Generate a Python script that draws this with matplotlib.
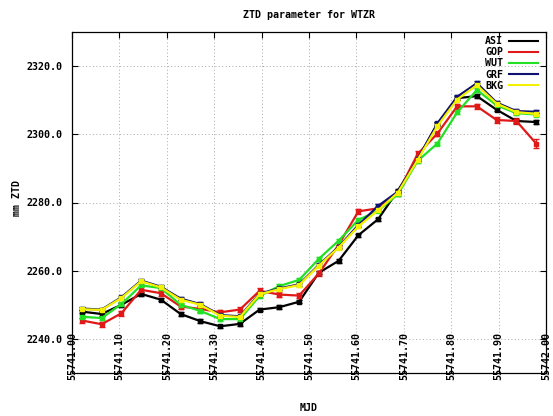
import matplotlib
matplotlib.use("Agg")
import matplotlib.pyplot as plt

# ---------------- data ----------------
mjd_start = 55741.0
hours = [k + 0.5 for k in range(24)]  # hourly epochs at half hour

ASI = [2248.0, 2247.3, 2250.0, 2253.2, 2251.5, 2247.3, 2245.2, 2243.7, 2244.4, 2248.6,
       2249.3, 2250.9, 2259.4, 2262.9, 2270.4, 2275.1, 2283.5, 2292.8, 2303.0, 2310.6,
       2311.2, 2307.2, 2303.9, 2303.6]
GOP = [2245.4, 2244.3, 2247.5, 2254.4, 2253.4, 2249.5, 2248.8, 2247.8, 2248.6, 2254.1,
       2253.0, 2252.7, 2259.2, 2267.6, 2277.4, 2278.3, 2282.8, 2294.2, 2300.2, 2308.2,
       2308.2, 2304.2, 2303.9, 2297.3]
WUT = [2246.5, 2246.1, 2250.2, 2255.7, 2254.9, 2250.0, 2248.2, 2245.8, 2245.8, 2252.6,
       2255.5, 2257.3, 2263.5, 2268.8, 2274.9, 2277.6, 2282.4, 2292.2, 2297.3, 2306.4,
       2313.0, 2308.5, 2306.2, 2305.8]
GRF = [2248.9, 2248.6, 2252.2, 2257.1, 2255.3, 2251.8, 2250.2, 2247.0, 2246.6, 2253.3,
       2254.8, 2256.0, 2261.7, 2267.0, 2273.4, 2279.0, 2283.2, 2292.7, 2303.2, 2311.0,
       2315.0, 2309.3, 2306.8, 2306.6]
BKG = [2248.7, 2248.5, 2252.0, 2256.9, 2255.1, 2251.5, 2250.0, 2246.8, 2246.4, 2253.1,
       2254.6, 2255.8, 2261.5, 2266.8, 2273.0, 2277.7, 2282.9, 2292.5, 2302.4, 2310.2,
       2314.4, 2309.0, 2306.5, 2306.0]

ASI_ERR = [0.5] * 24
GOP_ERR = [0.8] * 23 + [1.3]
WUT_ERR = [0.5] * 24
GRF_ERR = [0.5] * 24
BKG_ERR = [0.5] * 24

series_names = ["ASI", "GOP", "WUT", "GRF", "BKG"]
series_vals = [ASI, GOP, WUT, GRF, BKG]
series_errs = [ASI_ERR, GOP_ERR, WUT_ERR, GRF_ERR, BKG_ERR]
series_colors = ["#000000", "#e01818", "#22e022", "#101070", "#f2f200"]

x_ticks = [55741.0 + 0.1 * i for i in range(11)]
y_ticks = [2240, 2260, 2280, 2300, 2320]

title = "ZTD parameter for WTZR"
xlabel = "MJD"
ylabel = "mm ZTD"

# ---------------- figure ----------------
W, H = 553, 416
fig = plt.figure(figsize=(W / 100, H / 100), dpi=100)
L, R, T, B = 72, 546, 32, 373
ax = fig.add_axes([L / W, 1 - B / H, (R - L) / W, (B - T) / H])

FONT = dict(family="DejaVu Sans Mono", weight="bold", size=7.2)

x = [mjd_start + h / 24.0 for h in hours]

handles = []
for name, vals, errs, col in zip(series_names, series_vals, series_errs, series_colors):
    ax.errorbar(x, vals, yerr=errs, color=col, lw=1.6, marker="s", ms=2.5,
                elinewidth=1.0, capsize=2.2, capthick=1.0, zorder=3)
    h, = ax.plot([], [], color=col, lw=1.5, label=name)
    handles.append(h)

ax.set_xlim(55741.0, 55742.0)
ax.set_ylim(2230, 2330)
ax.set_xticks(x_ticks)
ax.set_xticklabels(["%.2f" % v for v in x_ticks], rotation=90, va="top", **FONT)
ax.set_yticks(y_ticks)
ax.set_yticklabels(["%.1f" % v for v in y_ticks], **FONT)

ax.tick_params(axis="x", direction="in", length=4, width=0.8, top=True, pad=-29.5)
ax.tick_params(axis="y", direction="in", length=4, width=0.8, right=True, pad=6.5)

ax.grid(True, color="#a8a8a8", lw=0.7, linestyle=(0, (1, 2.5)))
ax.set_axisbelow(True)
for s in ax.spines.values():
    s.set_linewidth(0.9)
    s.set_color("black")

leg = ax.legend(handles=handles, loc="upper right", frameon=False,
                bbox_to_anchor=(538 / W, 1 - 36 / H), bbox_transform=fig.transFigure,
                markerfirst=False, handlelength=2.9, handletextpad=0.6,
                labelspacing=0.12, borderpad=0, borderaxespad=0,
                prop=dict(family="DejaVu Sans Mono", weight="bold", size=7.2))

fig.text((L + R) / 2 / W, 1 - 15 / H, title, ha="center", va="center", **FONT)
fig.text((L + R) / 2 / W, 1 - 408 / H, xlabel, ha="center", va="center", **FONT)
fig.text(17 / W, 1 - 198 / H, ylabel, ha="center", va="center", rotation=90, **FONT)

fig.savefig("out.png", dpi=100)
